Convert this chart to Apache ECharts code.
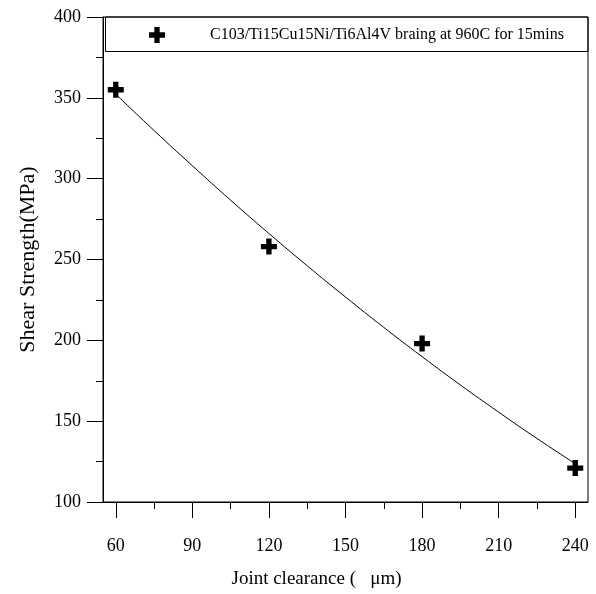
<!DOCTYPE html>
<html>
<head>
<meta charset="utf-8">
<script src="https://cdn.jsdelivr.net/npm/echarts@6/dist/echarts.min.js"></script>
<style>html,body{margin:0;padding:0;background:#fff;}#c{width:596px;height:594px;}</style>
</head>
<body>
<div id="c"></div>
<script>
// ---- data ----
const xTickValues = [60, 90, 120, 150, 180, 210, 240];
const xMinorTickValues = [75, 105, 135, 165, 195, 225];
const clearance = [60, 120, 180, 240];
const strength = [355, 258, 198, 121];
const fitClearance = [60, 75, 90, 105, 120, 135, 150, 165, 180, 195, 210, 225, 240];
const fitStrength = [352.3, 329.8, 308.0, 286.7, 266.1, 246.1, 226.8, 208.0, 189.9, 172.4, 155.6, 139.3, 123.7];
const seriesName = 'C103/Ti15Cu15Ni/Ti6Al4V braing at 960C for 15mins';
const xName = 'Joint clearance (   \u03bcm)';
const yName = 'Shear Strength(MPa)';

const FONT = "'Liberation Serif', 'Times New Roman', serif";
const PLUS = 'path://M5,0H10V5H15V10H10V15H5V10H0V5H5Z';

const chart = echarts.init(document.getElementById('c'), null, {renderer: 'canvas'});
chart.setOption({
  animation: false,
  backgroundColor: '#fff',
  grid: {left: 103, top: 17, right: 8, bottom: 92, show: true, borderColor: '#000', borderWidth: 1, containLabel: false},
  legend: {
    data: [{name: seriesName, icon: PLUS, itemStyle: {color: '#000', opacity: 1}}],
    left: 144, top: 22, itemWidth: 16, itemHeight: 16,
    textStyle: {fontFamily: FONT, fontSize: 16, color: '#000', padding: [0, 0, 0, 40]}
  },
  graphic: [{
    type: 'rect', shape: {x: 105.5, y: 17, width: 482.5, height: 34.5},
    style: {fill: 'none', stroke: '#000', lineWidth: 1}, z: 100, silent: true
  }],
  xAxis: [{
    type: 'value', min: 55, max: 245, position: 'bottom',
    axisLine: {show: true, lineStyle: {color: '#000', width: 1}},
    axisTick: {show: true, inside: false, length: 16, customValues: xTickValues, lineStyle: {color: '#000'}},
    axisLabel: {customValues: xTickValues, fontFamily: FONT, fontSize: 18, color: '#000', margin: 35},
    splitLine: {show: false},
    name: xName, nameLocation: 'middle', nameGap: 68,
    nameTextStyle: {fontFamily: FONT, fontSize: 19, color: '#000', padding: [0, 58, 0, 0]}
  }, {
    type: 'value', min: 55, max: 245, position: 'bottom',
    axisLine: {show: false},
    axisTick: {show: true, inside: false, length: 7, customValues: xMinorTickValues, lineStyle: {color: '#000'}},
    axisLabel: {show: false},
    splitLine: {show: false}
  }],
  yAxis: {
    type: 'value', min: 100, max: 400, interval: 50,
    axisLine: {show: true, lineStyle: {color: '#000', width: 1}},
    axisTick: {show: true, inside: false, length: 16, lineStyle: {color: '#000'}},
    minorTick: {show: true, splitNumber: 2, length: 7, lineStyle: {color: '#000'}},
    axisLabel: {fontFamily: FONT, fontSize: 18, color: '#000', margin: 22},
    splitLine: {show: false},
    name: yName, nameLocation: 'middle', nameGap: 64,
    nameTextStyle: {fontFamily: FONT, fontSize: 22, color: '#000'}
  },
  series: [{
    name: seriesName, type: 'scatter', symbol: PLUS, symbolSize: 16,
    itemStyle: {color: '#000', opacity: 1},
    data: clearance.map((x, i) => [x, strength[i]]), z: 5
  }, {
    name: 'fit', type: 'line', smooth: true, showSymbol: false,
    lineStyle: {color: '#000', width: 1},
    data: fitClearance.map((x, i) => [x, fitStrength[i]]), z: 4
  }]
});
</script>
</body>
</html>
